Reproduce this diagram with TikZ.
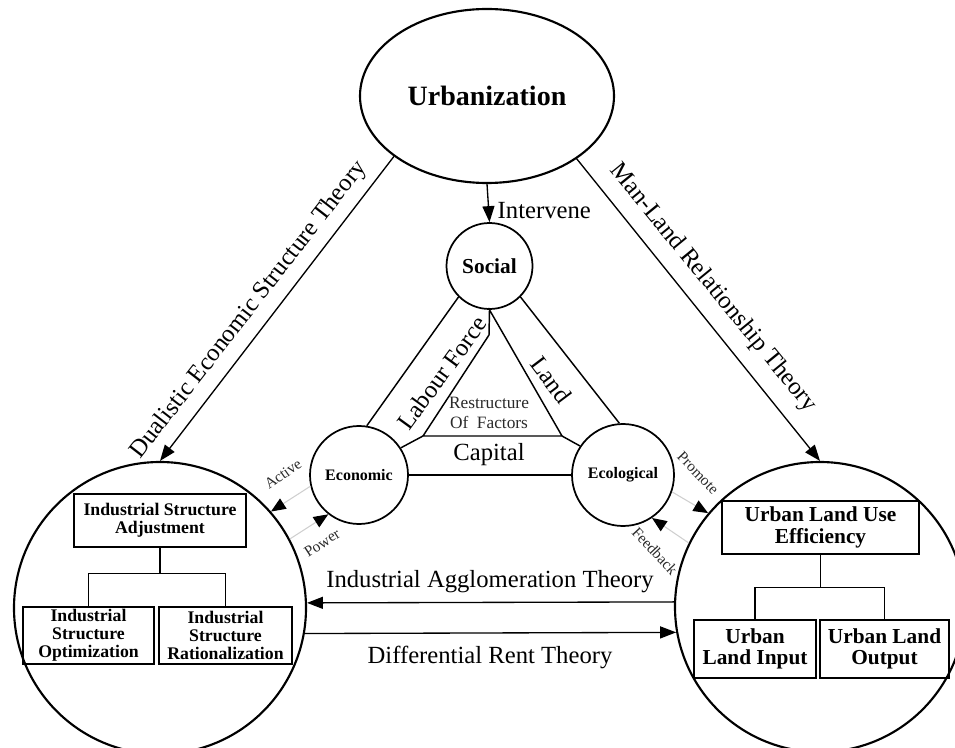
\documentclass[tikz,border=0pt]{standalone}
\usepackage{fontspec}
\setmainfont{Liberation Serif}
\usepackage{tikz}
\usetikzlibrary{arrows.meta,shapes.geometric,positioning,calc}
\definecolor{ulinkgray}{HTML}{CFCFCF}
\definecolor{unotegray}{HTML}{2A2A2A}
\tikzset{
  hub/.style={circle, draw, line width=1.3pt, inner sep=0pt},
  unitbox/.style={draw, line width=0.9pt, align=center, inner sep=0pt},
  lbox/.style={unitbox, font=\bfseries\fontsize{13.3}{13.4}\selectfont},
  rbox/.style={unitbox, font=\bfseries\fontsize{16}{16.2}\selectfont},
  theory/.style={-{Triangle[length=12pt,width=9pt]}, line width=1pt},
  feed/.style={draw=ulinkgray, line width=0.8pt, -{Triangle[length=11pt,width=9pt,black]}},
  feedlabel/.style={text=unotegray, font=\fontsize{11.5}{13}\selectfont},
  bigtext/.style={font=\fontsize{18.5}{20}\selectfont}
}

\begin{document}
\begin{tikzpicture}[x=0.75pt, y=-0.75pt]
 \useasboundingbox (0,0) rectangle (955,748);
 \clip (0,0) rectangle (955,748);
 \node[ellipse, draw, line width=1.6pt, minimum width=190.5pt, minimum height=130.5pt, inner sep=0pt, font=\bfseries\fontsize{21}{24}\selectfont] (urb) at (487,96) {Urbanization};
 \node[hub, minimum size=64.5pt, font=\bfseries\fontsize{16}{18}\selectfont] (soc) at (489.5,266) {Social};
 \node[hub, minimum size=73.5pt, font=\bfseries\fontsize{12}{14}\selectfont] (eco) at (359,475) {Economic};
 \node[hub, minimum size=76.5pt, font=\bfseries\fontsize{12}{14}\selectfont] (ecl) at (623,475) {Ecological};
 \node[hub, minimum size=219pt, line width=1.6pt] (ind) at (160,608) {};
 \node[hub, minimum size=217.5pt, line width=1.6pt] (land) at (820,607) {};

 \node[lbox, minimum width=129pt, minimum height=39.75pt] (isa) at (160,520.5) {Industrial Structure\\Adjustment};
 \node[lbox, minimum width=98.25pt, minimum height=42.75pt] (iso) at (88.5,635.5) {Industrial\\Structure\\Optimization};
 \node[lbox, minimum width=99.75pt, minimum height=42.75pt] (isr) at (225.5,635.5) {Industrial\\Structure\\Rationalization};
 \draw[line width=0.9pt] (isa.south) -- ++(0,-19.5pt) coordinate (isfork);
 \draw[line width=0.9pt] (iso.north) |- (isfork) -| (isr.north);

 \node[rbox, minimum width=147.75pt, minimum height=39.75pt] (ule) at (820.5,527.5) {Urban Land Use\\Efficiency};
 \node[rbox, minimum width=91.5pt, minimum height=43.5pt] (uli) at (755,649) {Urban\\Land Input};
 \node[rbox, minimum width=96.75pt, minimum height=43.5pt] (ulo) at (884.5,649) {Urban Land\\Output};
 \draw[line width=0.9pt] (ule.south) -- ++(0,-24.75pt) coordinate (ulfork);
 \draw[line width=0.9pt] (uli.north) |- (ulfork) -| (ulo.north);

 \draw[theory] (urb.south) -- (soc.north);
 \node[bigtext, anchor=west] (intv) at (493,211) {Intervene};
 \draw[theory] (urb.213.5) -- (ind.north);
 \node[bigtext, rotate=52.2] (dest) at (249,310) {Dualistic Economic Structure Theory};
 \draw[theory] (urb.-35) -- (land.north);
 \node[bigtext, rotate=-50.7] (mlrt) at (713,288) {Man-Land Relationship Theory};
 \draw[theory] (land.178) -- (ind.2);
 \node[bigtext] (iat) at (490,582) {Industrial Agglomeration Theory};
 \draw[theory] (ind.-10) -- (land.190);
 \node[bigtext] (drt) at (490,657) {Differential Rent Theory};

 \coordinate (apex) at (489,335);
 \coordinate (rfl) at (423,436);
 \coordinate (rfr) at (562,436);
 \draw[line width=1.1pt] (soc.225) -- (eco.81);
 \draw[line width=1.1pt] (soc.-45) -- (ecl.94);
 \draw[line width=1.1pt] (soc.south) -- (apex) -- (rfl) -- (rfr) -- cycle;
 \draw[line width=1.1pt] (rfl) -- (eco.33);
 \draw[line width=1.1pt] (rfr) -- (ecl.146);
 \draw[line width=1.1pt] (eco.east) -- (ecl.west);
 \node[bigtext, rotate=54] (lab) at (442,373) {Labour Force};
 \node[bigtext, rotate=-53] (lnd) at (551,380) {Land};
 \node[bigtext] (cap) at (489,455) {Capital};
 \node[text=unotegray, align=center, font=\fontsize{13}{15}\selectfont] (rof) at (489,413) {Restructure\\Of\ \ Factors};

 \draw[feed] (eco.193) -- (ind.41);
 \node[feedlabel, rotate=35] (act) at (283,474) {Active};
 \draw[feed] (ind.28) -- (eco.232);
 \node[feedlabel, rotate=33] (pow) at (322,543) {Power};
 \draw[feed] (ecl.-19) -- (land.140);
 \node[feedlabel, rotate=-46] (prm) at (698,473) {Promote};
 \draw[feed] (land.154) -- (ecl.-56);
 \node[feedlabel, rotate=-47] (fdb) at (655,551) {Feedback};
\end{tikzpicture}
\end{document}
